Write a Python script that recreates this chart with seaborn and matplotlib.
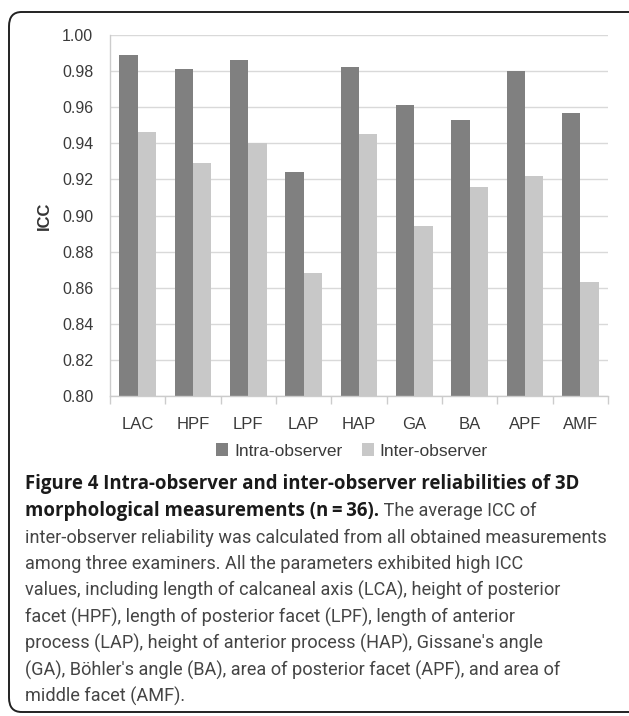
import matplotlib
matplotlib.use("Agg")
import matplotlib.pyplot as plt
import seaborn as sns
import pandas as pd
import numpy as np
from matplotlib.patches import FancyBboxPatch, Patch
from matplotlib.ticker import FixedLocator

categories = ["LAC", "HPF", "LPF", "LAP", "HAP", "GA", "BA", "APF", "AMF"]
intra_values = [0.989, 0.981, 0.986, 0.924, 0.982, 0.961, 0.953, 0.980, 0.957]
inter_values = [0.946, 0.929, 0.940, 0.868, 0.945, 0.894, 0.916, 0.922, 0.863]
series_names = ["Intra-observer", "Inter-observer"]
y_ticks = [0.80, 0.82, 0.84, 0.86, 0.88, 0.90, 0.92, 0.94, 0.96, 0.98, 1.00]

caption_bold_1 = "Figure 4 Intra-observer and inter-observer reliabilities of 3D"
caption_bold_2 = "morphological measurements (n\u2009=\u200936)."
caption_reg_2 = " The average ICC of"
caption_lines = [
    "inter-observer reliability was calculated from all obtained measurements",
    "among three examiners. All the parameters exhibited high ICC",
    "values, including length of calcaneal axis (LCA), height of posterior",
    "facet (HPF), length of posterior facet (LPF), length of anterior",
    "process (LAP), height of anterior process (HAP), Gissane's angle",
    "(GA), B\u00f6hler's angle (BA), area of posterior facet (APF), and area of",
    "middle facet (AMF).",
]

df = pd.DataFrame({
    "cat": categories * 2,
    "ICC": intra_values + inter_values,
    "series": [series_names[0]] * len(categories) + [series_names[1]] * len(categories),
})

sns.set_style("white")
plt.rcParams["font.family"] = ["Liberation Sans", "DejaVu Sans"]

W, H = 629, 716
fig = plt.figure(figsize=(W / 100, H / 100), dpi=100)

def fx(px):
    return px / W

def fy(py):
    return 1 - py / H

ax = fig.add_axes([fx(110), fy(396), fx(608) - fx(110), fy(35) - fy(396)])
sns.barplot(data=df, x="cat", y="ICC", hue="series", order=categories,
            hue_order=series_names, palette=["#808080", "#c8c8c8"],
            width=0.66, gap=0, saturation=1, ax=ax, legend=False, linewidth=0)

ax.set_ylim(0.80, 1.00)
ax.set_xlim(-0.5, len(categories) - 0.5)
ax.set_yticks(y_ticks)
ax.set_yticklabels([f"{v:.2f}" for v in y_ticks], fontsize=11.5, color="#3a3a3a")
ax.yaxis.grid(True, color="#d9d9d9", linewidth=1.0)
ax.set_axisbelow(True)
ax.set_xlabel("")
ax.set_ylabel("ICC", fontsize=12, fontweight="bold", color="#333333", labelpad=7)

for s in ["top", "right"]:
    ax.spines[s].set_visible(False)
for s in ["left", "bottom"]:
    ax.spines[s].set_visible(True)
    ax.spines[s].set_color("#cccccc")
    ax.spines[s].set_linewidth(1.0)

ax.tick_params(axis="y", length=5, color="#cccccc", width=1, pad=7)
ax.xaxis.set_minor_locator(FixedLocator(np.arange(-0.5, len(categories), 1.0)))
ax.tick_params(axis="x", which="major", length=0, pad=15, labelsize=12, labelcolor="#3a3a3a")
ax.tick_params(axis="x", which="minor", length=6, color="#cccccc", width=1, bottom=True)

# legend
handles = [Patch(facecolor="#808080", edgecolor="none"), Patch(facecolor="#c8c8c8", edgecolor="none")]
leg = fig.legend(handles, series_names, loc="center", bbox_to_anchor=(fx(352), fy(451)),
                 ncol=2, frameon=False, fontsize=12.5, handlelength=0.7, handleheight=0.7,
                 handletextpad=0.35, columnspacing=1.1, labelcolor="#3a3a3a")

# border
box = FancyBboxPatch((fx(9), fy(712)), fx(660) - fx(9), fy(12) - fy(712),
                     boxstyle="round,pad=0,rounding_size=0.02",
                     transform=fig.transFigure, facecolor="none",
                     edgecolor="#222222", linewidth=1.4, clip_on=False)
fig.patches.append(box)

# caption
renderer = fig.canvas.get_renderer()
bold_font = ["Open Sans", "DejaVu Sans"]
reg_font = ["Roboto", "DejaVu Sans"]
reg_weight = "normal"
reg_color = "#454545"

def fit_size(text, target_w, weight, fam):
    t = fig.text(0, 0, text, fontsize=10, family=fam, fontweight=weight)
    w = t.get_window_extent(renderer).width
    t.remove()
    return 10 * target_w / w

bold_size = fit_size(caption_bold_1, 557, "bold", bold_font)
reg_size = fit_size(caption_lines[0], 579, reg_weight, reg_font)

x0 = fx(25)
baselines = [489, 516, 543, 569, 596, 623, 649, 676, 702]
fig.text(x0, fy(baselines[0]), caption_bold_1, fontsize=bold_size, family=bold_font,
         fontweight="bold", color="#1a1a1a", va="baseline")
tb = fig.text(x0, fy(baselines[1]), caption_bold_2, fontsize=bold_size, family=bold_font,
              fontweight="bold", color="#1a1a1a", va="baseline")
bw = tb.get_window_extent(renderer).x1
fig.text(bw / W, fy(baselines[1]), caption_reg_2, fontsize=reg_size, family=reg_font,
         fontweight=reg_weight, color=reg_color, va="baseline")
for line, b in zip(caption_lines, baselines[2:]):
    fig.text(x0, fy(b), line, fontsize=reg_size, family=reg_font, fontweight=reg_weight,
             color=reg_color, va="baseline")

fig.savefig("out.png", dpi=100, facecolor="white")
